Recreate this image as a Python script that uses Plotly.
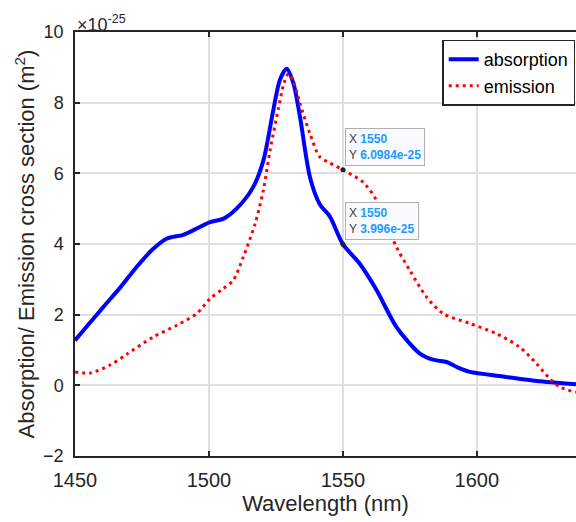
import plotly.graph_objects as go

# wavelength (nm) and cross sections (units of 1e-25 m^2)
abs_wl = [1450, 1455, 1460.6, 1467, 1473, 1479, 1484.2, 1490.4, 1495, 1500.4, 1505.3, 1510.3,
          1516.5, 1520.3, 1524, 1526.5, 1529, 1531.5, 1534, 1537.7, 1541.4, 1545.1, 1550,
          1556.3, 1562.6, 1570, 1578.7, 1584, 1588.7, 1593, 1597.4, 1609.8, 1622.3, 1637]
abs_val = [1.27, 1.72, 2.22, 2.78, 3.35, 3.85, 4.15, 4.26, 4.42, 4.62, 4.71, 5.0,
           5.61, 6.36, 7.78, 8.65, 8.96, 8.55, 7.59, 5.89, 5.12, 4.78, 3.996,
           3.44, 2.69, 1.65, 0.90, 0.72, 0.66, 0.50, 0.38, 0.25, 0.12, 0.03]

emi_wl = [1450, 1455.6, 1463, 1469.3, 1479.2, 1488, 1495.4, 1500.4, 1505, 1509, 1512.8,
          1517.2, 1520.3, 1522.8, 1525.9, 1528, 1529.6, 1531.5, 1534, 1537.7, 1541.4, 1545,
          1550, 1557.5, 1562.6, 1570, 1575, 1581.2, 1587.4, 1597.4, 1607.4, 1616,
          1622.3, 1627.2, 1631, 1637]
emi_val = [0.38, 0.35, 0.57, 0.88, 1.37, 1.70, 2.03, 2.45, 2.72, 2.97, 3.63,
           4.57, 5.52, 6.65, 7.83, 8.55, 8.82, 8.6, 7.97, 7.12, 6.46, 6.3,
           6.0984, 5.75, 5.23, 3.91, 3.25, 2.50, 2.03, 1.75, 1.46, 1.08,
           0.61, 0.19, -0.05, -0.19]

tip_x = [1550, 1550]
tip_y = [6.0984, 3.996]
tip_label = ["6.0984e-25", "3.996e-25"]

x_ticks = [1450, 1500, 1550, 1600, 1650]
y_ticks = [-2, 0, 2, 4, 6, 8, 10]

font_family = "Liberation Sans, Arial, sans-serif"

fig = go.Figure()
fig.add_trace(go.Scatter(x=abs_wl, y=abs_val, name="absorption", mode="lines",
                         line=dict(color="#0000ff", width=4, shape="spline", smoothing=0.8)))
fig.add_trace(go.Scatter(x=emi_wl, y=emi_val, name="emission", mode="lines",
                         line=dict(color="#ff0000", width=3, dash="3px,4px",
                                   shape="spline", smoothing=0.8)))
fig.add_trace(go.Scatter(x=tip_x, y=tip_y, mode="markers", showlegend=False,
                         marker=dict(color="#222222", size=5)))

for tx, ty, lab in zip(tip_x, tip_y, tip_label):
    fig.add_annotation(
        x=tx, y=ty, xref="x", yref="y", showarrow=False,
        xanchor="left", yanchor="bottom", xshift=2, yshift=4, align="left",
        text=("<span style='color:#404040'>X</span> <b><span style='color:#1a9bff'>%d</span></b><br>"
              "<span style='color:#404040'>Y</span> <b><span style='color:#1a9bff'>%s</span></b>")
             % (tx, lab),
        font=dict(family=font_family, size=12),
        bgcolor="#fafaff", bordercolor="#b0b0b0", borderwidth=1, borderpad=3,
    )

fig.add_annotation(x=0, y=1, xref="paper", yref="paper", showarrow=False,
                   xanchor="left", yanchor="bottom", xshift=0, yshift=-5,
                   text="×10<sup>-25</sup>", font=dict(family=font_family, size=18, color="#262626"))

fig.update_layout(
    width=576, height=522,
    margin=dict(l=75, r=0, t=32, b=66, autoexpand=False),
    paper_bgcolor="white", plot_bgcolor="white",
    font=dict(family=font_family, color="#262626", size=18),
    showlegend=True,
    legend=dict(x=0.733, y=0.982, xanchor="left", yanchor="top",
                bgcolor="white", bordercolor="#262626", borderwidth=1.5,
                font=dict(size=18, color="black"), tracegroupgap=0,
                itemwidth=30),
    xaxis=dict(range=[1450, 1637], tickvals=x_ticks, ticks="inside", ticklen=5,
               tickwidth=1.5, tickcolor="#262626", ticklabelstandoff=5,
               showline=True, linecolor="#262626", linewidth=1.5, mirror="ticks",
               showgrid=True, gridcolor="#e0e0e0", gridwidth=1.5, zeroline=False,
               title=dict(text="Wavelength (nm)", font=dict(size=22), standoff=4),
               tickfont=dict(size=20)),
    yaxis=dict(range=[-2, 10], tickvals=y_ticks, ticks="inside", ticklen=5,
               tickwidth=1.5, tickcolor="#262626", ticklabelstandoff=6,
               showline=True, linecolor="#262626", linewidth=1.5, mirror=False,
               showgrid=True, gridcolor="#e0e0e0", gridwidth=1.5, zeroline=False,
               title=dict(text="Absorption/ Emission cross section (m<sup>2</sup>)",
                          font=dict(size=22), standoff=2),
               tickfont=dict(size=18)),
)

fig.write_html("out.html")
